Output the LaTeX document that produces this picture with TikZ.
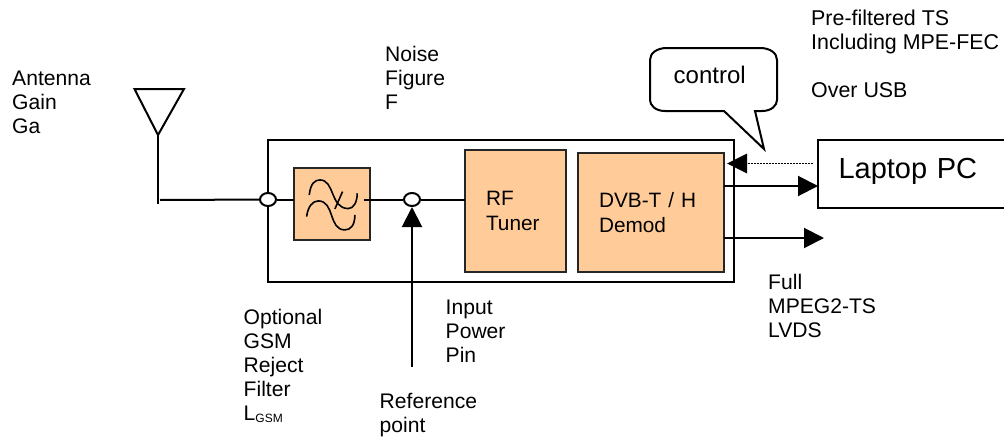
\documentclass[tikz,border=0pt]{standalone}
\usepackage{fontspec}
\setmainfont{Liberation Sans}
\usetikzlibrary{arrows.meta,shapes.geometric,shapes.callouts}
\definecolor{peach}{HTML}{FFCC99}
\tikzset{
  wire/.style={line width=2pt,black},
  head/.style={wire,-{Triangle[length=20pt,width=20pt,fill=black]}},
  blockbox/.style={draw=black!85,line width=1.6pt,fill=peach,inner sep=0pt,outer sep=0pt,anchor=north west},
  plainbox/.style={draw=black,line width=1.6pt,inner sep=0pt,outer sep=0pt,anchor=north west},
  port/.style={ellipse,draw=black,line width=2pt,fill=white,inner sep=0pt},
  lbl/.style={anchor=north west,align=left,inner sep=0pt,font=\fontsize{21.1pt}{24pt}\selectfont},
  blocktext/.style={align=left,font=\fontsize{20.8pt}{25pt}\selectfont}
}
\begin{document}
\begin{tikzpicture}[x=1pt,y=-1pt]
\useasboundingbox (0,0) rectangle (1004,439);
% blocks
\node[plainbox,minimum width=466pt,minimum height=142pt] (chip) at (268,140) {};
\node[blockbox,minimum width=76pt,minimum height=72pt] (filter) at (294,168) {};
\node[blockbox,minimum width=101pt,minimum height=122pt,text width=59pt,inner xsep=21pt,blocktext] (tuner) at (465,150) {RF\\Tuner};
\node[blockbox,minimum width=146pt,minimum height=119pt,text width=104pt,inner xsep=21pt,blocktext] (demod) at (578,153) {DVB-T / H\\Demod};
\node[plainbox,minimum width=192pt,minimum height=68pt,text width=171pt,inner xsep=20.5pt,align=left,font=\fontsize{29pt}{32pt}\selectfont] (pc) at (818,140) {\raisebox{0pt}[\height][\dimexpr\depth+6pt\relax]{Laptop PC}};
% ports
\node[port,minimum width=16pt,minimum height=13pt] (p1) at (268,199.5) {};
\node[port,minimum width=16pt,minimum height=13pt] (p2) at (412,199.5) {};
% antenna
\coordinate (ta) at (134.5,89);
\coordinate (tb) at (184,89);
\coordinate (tc) at (158,135);
\coordinate (foot) at (158,204);
\coordinate (start) at (160,200);
\draw[wire,line join=miter] (ta) -- (tb) -- (tc) -- cycle;
\draw[wire] (tc) -- (foot);
\draw[wire] (start) -- (p1);
\draw[wire] (p1) -- (filter.west |- p1);
\coordinate (fout) at (363.5,199.5);
\draw[wire] (fout) -- (p2);
\draw[wire] (p2) -- (tuner.west |- p2);
% filter symbol
\begin{scope}[shift={(240,130)},x=0.333pt,y=-0.333pt,wire,line width=1.6pt]
\draw (208,195) .. controls (212,160) and (225,150) .. (240,150) .. controls (285,150) and (270,235) .. (325,236) .. controls (342,236) and (352,215) .. (352,190);
\draw (200,260) .. controls (204,230) and (218,213) .. (235,213) .. controls (285,213) and (265,300) .. (315,300) .. controls (333,300) and (345,285) .. (345,255);
\draw (285,237) -- (308,185);
\end{scope}
% reference arrow
\coordinate (refb) at (412,367);
\draw[head] (refb) -- (p2.south);
% outputs
\coordinate (usb) at (724,186);
\draw[head] (usb) -- (pc.west |- usb);
\coordinate (lvdsa) at (724,238);
\coordinate (lvdsb) at (824,238);
\draw[head] (lvdsa) -- (lvdsb);
\coordinate (ctla) at (813,163.5);
\coordinate (ctlb) at (727,163.5);
\draw[wire,densely dotted,line width=1.5pt] (ctla) -- (747,163.5);
\fill (ctlb) -- (747,153.5) -- (747,173.5) -- cycle;
% callout
\coordinate (tip) at (764,149);
\draw[wire,fill=white,line join=miter] (724,111) -- (tip) -- (755,111) -- (762,111)
  .. controls (772,111) and (777,105) .. (777,100) -- (777,60)
  .. controls (777,53) and (770,48) .. (760,48) -- (667,48)
  .. controls (657,48) and (650,53) .. (650,60) -- (650,100)
  .. controls (650,105) and (655,111) .. (665,111) -- cycle;
\node[anchor=base west,inner sep=0pt,font=\fontsize{24pt}{26pt}\selectfont] (ctl) at (673.5,83) {control};
% labels
\node[lbl] (l1) at (12,70.5) {Antenna\\Gain\\Ga};
\node[lbl] (l2) at (385,46) {Noise\\Figure\\F};
\node[lbl,font=\fontsize{21.4pt}{24pt}\selectfont] (l3) at (811,10) {Pre-filtered TS\\Including MPE-FEC\\\\Over USB};
\node[lbl] (l4) at (243.5,309) {Optional\\GSM\\Reject\\Filter\\L\raisebox{-2pt}{\fontsize{12pt}{12pt}\selectfont GSM}};
\node[lbl] (l5) at (445.5,300) {Input\\Power\\Pin};
\node[lbl] (l6) at (379.5,393.5) {Reference\\point};
\node[lbl] (l7) at (768,274.5) {Full\\MPEG2-TS\\LVDS};
\end{tikzpicture}
\end{document}
